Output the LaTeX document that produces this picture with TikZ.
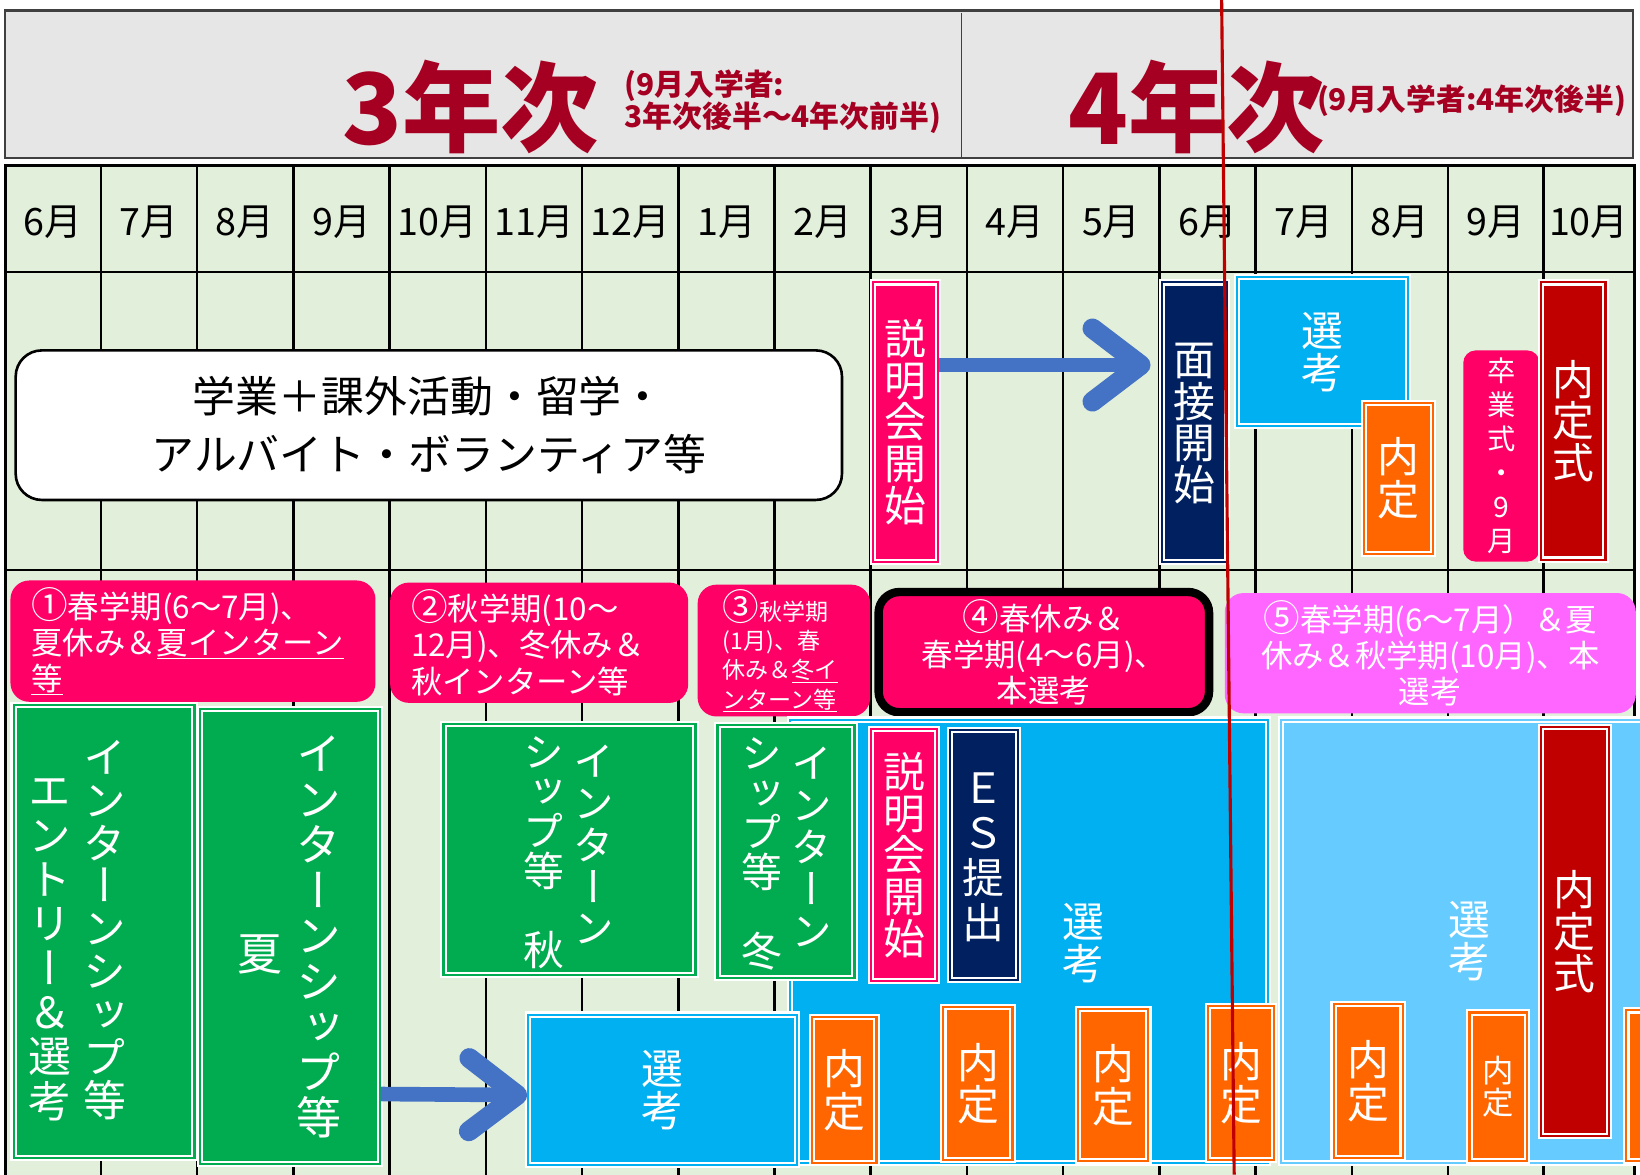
\documentclass[tikz,border=0pt]{standalone}
\usepackage{fontspec}
\setmainfont{Noto Sans CJK JP}
\newfontfamily\tatefont[RawFeature=+vert]{Noto Sans CJK JP}
\usetikzlibrary{arrows.meta}

\definecolor{gridgreen}{HTML}{E2EFDA}
\definecolor{headgray}{HTML}{E6E6E6}
\definecolor{headborder}{HTML}{404040}
\definecolor{titlered}{HTML}{A50021}
\definecolor{pinkc}{HTML}{FF0066}
\definecolor{navyc}{HTML}{002060}
\definecolor{skyc}{HTML}{00B0F0}
\definecolor{lightskyc}{HTML}{66CCFF}
\definecolor{orangec}{HTML}{FF6600}
\definecolor{darkredc}{HTML}{C00000}
\definecolor{greenc}{HTML}{00AC4F}
\definecolor{magentac}{HTML}{FF66FF}
\definecolor{arrowblue}{HTML}{4472C4}

% vertical (tategaki) text: one character per line
\newlength\tategap
\newcommand\tate[2][0pt]{\setlength\tategap{#1}\vbox{\offinterlineskip\tatechar#2\relax}}
\def\tatechar#1{\ifx\relax#1\unskip\else\hbox to 1em{\hss\vrule height .88em depth .12em width 0pt #1\hss}\vskip\tategap\expandafter\tatechar\fi}
% circled numbers a bit larger than the text
\newcommand\bignum[1]{{\fontsize{35}{30}\selectfont #1}}

\begin{document}
\begin{tikzpicture}[x=1pt, y=-1pt]
    \tikzset{
      tbox/.style={draw=white, line width=2pt, double=#1, double distance=2pt, fill=#1, inner sep=0pt, text=white, font=\tatefont\fontsize{40}{40}\selectfont},
      tatetext/.style={text=white, inner sep=0pt, font=\tatefont\fontsize{#1}{#1}\selectfont},
      labbox/.style={fill=#1, rounded corners=18pt, inner xsep=20pt, inner ysep=0pt, align=left, text=white, font=\fontsize{30}{34.5}\selectfont},
      month/.style={font=\fontsize{36}{36}\selectfont},
      titlebig/.style={text=titlered, inner sep=0pt, font=\bfseries\fontsize{94}{94}\selectfont},
      titlesub/.style={text=titlered, inner sep=0pt, align=left, font=\bfseries\fontsize{28.5}{31}\selectfont},
      gridline/.style={line width=2.5pt},
      bluearrow/.style={draw=arrowblue, line width=14pt, -{Straight Barb[length=46pt, width=70pt, line width=19pt, round]}},
      redline/.style={draw=darkredc, line width=3pt}
    }
    \useasboundingbox (0,0) rectangle (1568,1123);
    \clip (0,0) rectangle (1568,1123);
    \fill[white] (0,0) rectangle (1568,1123);

    % header
    \node[draw=headborder, line width=2pt, fill=headgray, minimum width=1556, minimum height=141, inner sep=0pt] (header) at (783,80.5) {};
    \draw[headborder, line width=1pt] (919,12) -- (919,150);
    \node[titlebig] (year3) at (450,102) {3年次};
    \node[titlesub, anchor=west] (year3note) at (597,97.5) {(9月入学者:\\3年次後半～4年次前半)};
    \node[titlebig] (year4) at (1144,102) {4年次};
    \node[titlesub, anchor=west] (year4note) at (1259,96) {(9月入学者:4年次後半)};

    % grid
    \fill[gridgreen] (5,158) rectangle (1563,1123);
    \draw[gridline] (5,1123) -- (5,158) -- (1563,158) -- (1563,1123);
    \draw[gridline] (5,260) -- (1563,260) (5,545) -- (1563,545);
    \draw[gridline] (96.5,158) -- (96.5,1123) (188.5,158) -- (188.5,1123) (280.5,158) -- (280.5,1123)
      (372.5,158) -- (372.5,1123) (464.5,158) -- (464.5,1123) (556.5,158) -- (556.5,1123)
      (648.5,158) -- (648.5,1123) (740.5,158) -- (740.5,1123) (832.5,158) -- (832.5,1123)
      (924.5,158) -- (924.5,1123) (1016.5,158) -- (1016.5,1123) (1108.5,158) -- (1108.5,1123)
      (1200.5,158) -- (1200.5,1123) (1292.5,158) -- (1292.5,1123) (1384.5,158) -- (1384.5,1123)
      (1475.5,158) -- (1475.5,1123);

    \node[month] (jun3) at (50.5,212) {6月};
    \node[month] (jul3) at (142.5,212) {7月};
    \node[month] (aug3) at (234.5,212) {8月};
    \node[month] (sep3) at (326.5,212) {9月};
    \node[month] (oct3) at (418.5,212) {10月};
    \node[month] (nov3) at (510.5,212) {11月};
    \node[month] (dec3) at (602.5,212) {12月};
    \node[month] (jan4) at (694.5,212) {1月};
    \node[month] (feb4) at (786.5,212) {2月};
    \node[month] (mar4) at (878.5,212) {3月};
    \node[month] (apr4) at (970.5,212) {4月};
    \node[month] (may4) at (1062.5,212) {5月};
    \node[month] (jun4) at (1154.5,212) {6月};
    \node[month] (jul4) at (1246.5,212) {7月};
    \node[month] (aug4) at (1338.5,212) {8月};
    \node[month] (sep4) at (1430,212) {9月};
    \node[month] (oct4) at (1519,212) {10月};

    % upper row
    \node[draw, line width=2.5pt, rounded corners=25pt, fill=white, minimum width=790, minimum height=143, align=center, font=\fontsize{41}{55}\selectfont] (study) at (410,406.5) {学業＋課外活動・留学・\\アルバイト・ボランティア等};
    \node[tbox=pinkc, minimum width=62, minimum height=267] (setsumeiA) at (866,403.5) {\tate{説明会開始}};
    \node[tbox=navyc, minimum width=62, minimum height=267] (mensetsu) at (1142,403.5) {\tate{面接開始}};
    \node[tbox=skyc, minimum width=163, minimum height=142] (senkouA) at (1264.5,336) {\tate{選考}};
    \node[tbox=orangec, minimum width=66, minimum height=145] (naiteiA) at (1337,457.5) {\tate[1pt]{内定}};
    \node[fill=pinkc, rounded corners=12pt, minimum width=73, minimum height=202, inner sep=0pt, text=white, font=\tatefont\fontsize{27}{27}\selectfont] (sotsugyou) at (1435.5,436) {\tate[5.5pt]{卒業式・9月}};
    \node[tbox=darkredc, minimum width=62, minimum height=265] (naiteishikiA) at (1504,402.5) {\tate{内定式}};

    \draw[bluearrow] ([yshift=54.5pt]setsumeiA.east) -- ([xshift=-10pt, yshift=54.5pt]mensetsu.west);

    % period labels
    \node[labbox=pinkc, minimum width=349, minimum height=116, text width=309] (term1) at (184.5,613) {\bignum{①}春学期(6～7月)、\\夏休み＆\underline{夏インターン}\\\underline{等}};
    \node[labbox=pinkc, minimum width=285, minimum height=115, text width=245] (term2) at (515.5,614.5) {\bignum{②}秋学期(10～\\12月)、冬休み＆\\秋インターン等};
    \node[labbox=pinkc, minimum width=165, minimum height=126, text width=117, inner xsep=24pt, font=\fontsize{22}{28}\selectfont] (term3) at (749.5,622) {\bignum{③}秋学期\\(1月)、春\\休み＆\underline{冬イ}\\\underline{ンターン等}};
    \node[labbox=pinkc, draw=black, line width=8pt, rounded corners=20pt, align=center, minimum width=316, minimum height=115] (term4) at (998,623.5) {\bignum{④}春休み＆\\春学期(4～6月)、\\本選考};
    \node[labbox=magentac, align=center, minimum width=393, minimum height=115] (term5) at (1367.5,624.5) {\bignum{⑤}春学期(6～7月）＆夏\\休み＆秋学期(10月)、本\\選考};

    % lower row
    \node[tbox=skyc, minimum width=457, minimum height=424] (senkouB) at (983.5,900) {};
    \node[tatetext=40] (senkouBtext) at (1035.5,901) {\tate{選考}};
    \node[tbox=lightskyc, minimum width=395, minimum height=424] (senkouD) at (1422.5,900) {};
    \node[tatetext=40] (senkouDtext) at (1405,899.5) {\tate{選考}};

    \node[tbox=greenc, minimum width=173, minimum height=433] (green1) at (99.5,890.5) {};
    \node[tatetext=41, anchor=north] (green1r) at (100,703) {\tate{インターンシップ等}};
    \node[tatetext=41, anchor=north] (green1l) at (47.5,735) {\tate[1.4pt]{エントリー＆選考}};
    \node[tbox=greenc, minimum width=172, minimum height=435] (green2) at (277,895.5) {};
    \node[tatetext=43, anchor=north] (green2r) at (305,699) {\tate[0.5pt]{インターンシップ等}};
    \node[tatetext=43] (green2l) at (248.5,912) {\tate{夏}};
    \node[tbox=greenc, minimum width=241, minimum height=240] (green3) at (544.5,812) {};
    \node[tatetext=39, anchor=north] (green3r) at (567.5,708) {\tate[1pt]{インターン}};
    \node[tatetext=39, anchor=north] (green3l) at (520,699) {\tate[-1pt]{シップ等　秋}};
    \node[tbox=greenc, minimum width=131, minimum height=242] (green4) at (751.5,814) {};
    \node[tatetext=39, anchor=north] (green4r) at (776,710) {\tate[1pt]{インターン}};
    \node[tatetext=39, anchor=north] (green4l) at (728,700) {\tate[-1pt]{シップ等　冬}};

    \node[tbox=pinkc, minimum width=63, minimum height=241] (setsumeiB) at (864.5,817.5) {\tate{説明会開始}};
    \node[tbox=navyc, minimum width=65, minimum height=239] (es) at (940.5,817.5) {\tate[3pt]{ＥＳ提出}};
    \node[tbox=skyc, minimum width=257, minimum height=144] (senkouC) at (633.5,1042) {\tate{選考}};

    \node[tbox=orangec, minimum width=62, minimum height=140] (naitei1) at (807,1042) {\tate[1pt]{内定}};
    \node[tbox=orangec, minimum width=66, minimum height=146] (naitei2) at (935,1036) {\tate[1pt]{内定}};
    \node[tbox=orangec, minimum width=67, minimum height=145] (naitei3) at (1064.5,1037.5) {\tate[1pt]{内定}};
    \node[tbox=orangec, minimum width=63, minimum height=147] (naitei4) at (1186.5,1035.5) {\tate[1pt]{内定}};
    \node[tbox=orangec, minimum width=66, minimum height=147] (naitei5) at (1308,1033.5) {\tate[1pt]{内定}};
    \node[tbox=orangec, minimum width=55, minimum height=142, font=\tatefont\fontsize{30}{30}\selectfont] (naitei6) at (1432.5,1039) {\tate[1pt]{内定}};
    \node[tbox=orangec, minimum width=65, minimum height=144] (naitei7) at (1587.5,1038) {};
    \node[tbox=darkredc, minimum width=65, minimum height=391] (naiteishikiB) at (1505.5,890.5) {\tate{内定式}};

    \draw[bluearrow] ([yshift=-150.5pt]green2.east) -- ([yshift=-5pt]senkouC.west);

    % red marker line
    \coordinate (redtop) at (1168,0);
    \coordinate (redbottom) at (1180,1123);
    \draw[redline] (redtop) -- (redbottom);
  \end{tikzpicture}
\end{document}
